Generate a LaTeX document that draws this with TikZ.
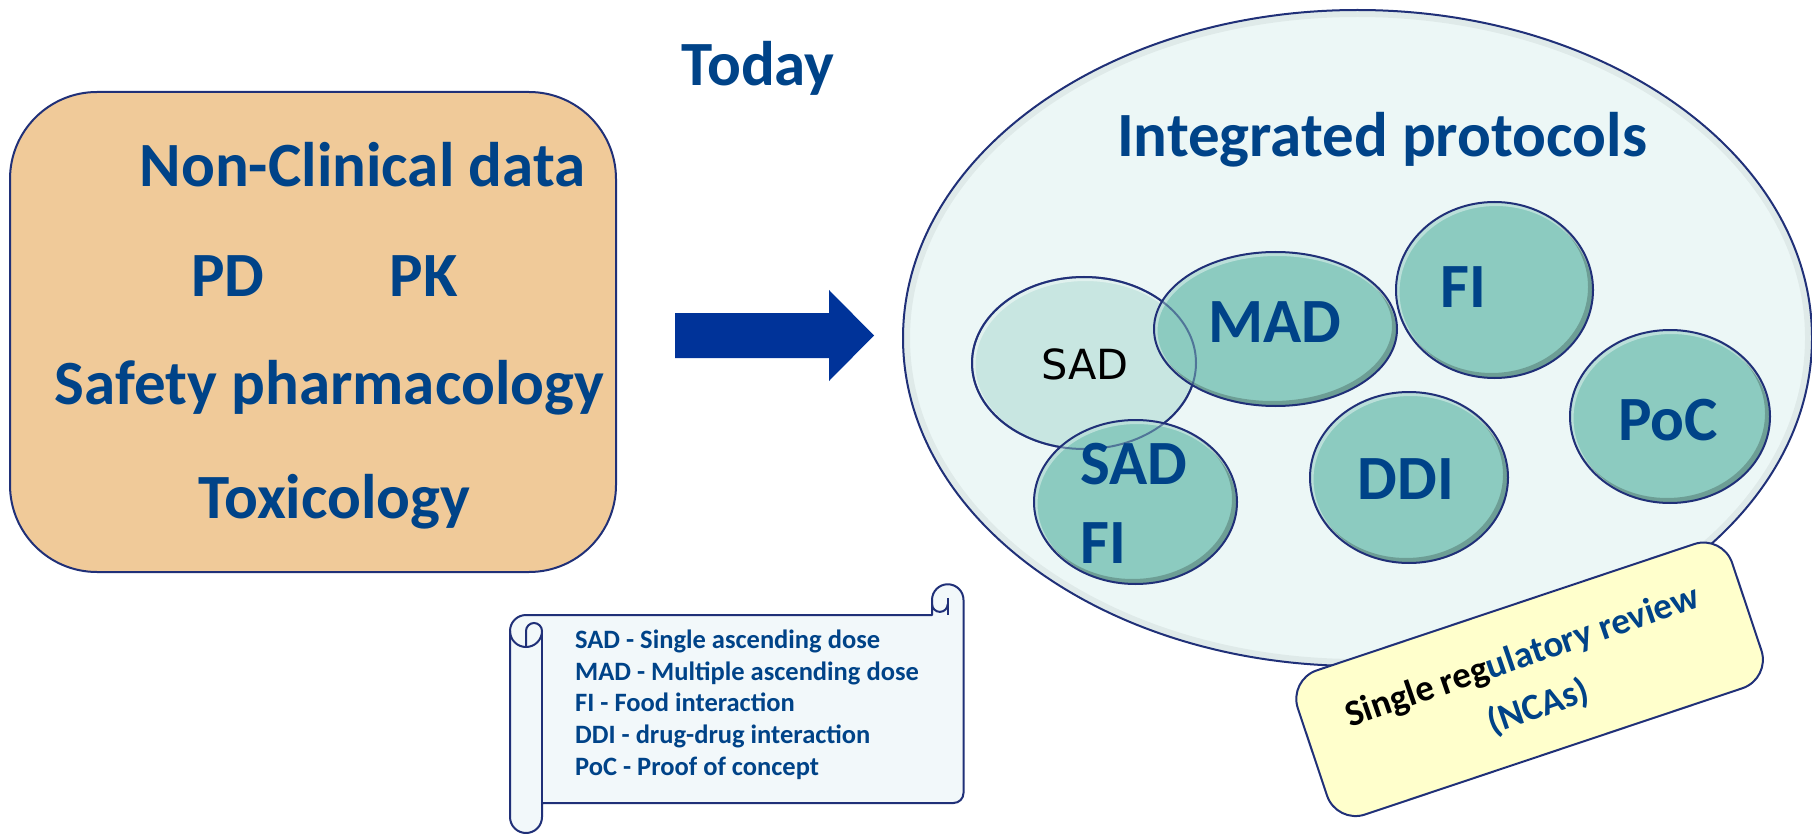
\documentclass[tikz,border=0pt]{standalone}
\usepackage{fontspec}
\usetikzlibrary{shapes.geometric,calc}
\newfontfamily\calib{Carlito}
\newfontfamily\djv{DejaVu Sans}
\definecolor{txtblue}{RGB}{0,67,136}
\definecolor{edgeblue}{RGB}{32,48,120}
\definecolor{peach}{RGB}{240,202,153}
\definecolor{arrowblue}{RGB}{0,51,153}
\definecolor{paleteal}{RGB}{236,247,246}
\definecolor{tealfill}{RGB}{140,203,192}
\definecolor{sadfill}{RGB}{200,230,225}
\definecolor{scrollfill}{RGB}{242,248,250}
\definecolor{notefill}{RGB}{255,255,204}

\tikzset{
  big/.style={font=\calib\bfseries\fontsize{63}{77}\selectfont, text=txtblue, inner sep=0pt, anchor=base},
  legend/.style={font=\calib\bfseries\fontsize{26.5}{32}\selectfont, text=txtblue, inner sep=0pt, anchor=base west},
  note/.style={font=\calib\bfseries\fontsize{37}{45}\selectfont, inner sep=0pt, anchor=base, rotate=19},
  outline/.style={draw=edgeblue, line width=2pt},
  bubble/.style={ellipse, outline, fill=tealfill, inner sep=0pt,
    path picture={
      \path let \p1=(path picture bounding box.north east), \p2=(path picture bounding box.center) in
        [draw=black, opacity=0.10, line width=10pt] ([xshift=-3pt,yshift=3pt]\p2) ellipse [x radius=\x1-\x2, y radius=\y1-\y2]
        [draw=black, opacity=0.22, line width=4pt] ([xshift=-2pt,yshift=2pt]\p2) ellipse [x radius=\x1-\x2, y radius=\y1-\y2];
      \path let \p1=(path picture bounding box.north east), \p2=(path picture bounding box.center) in
        [draw=white, opacity=0.40, line width=4pt] ([xshift=1.5pt,yshift=-2pt]\p2) ellipse [x radius=\x1-\x2, y radius=\y1-\y2];
    }},
  lightbubble/.style={ellipse, outline, fill=sadfill, inner sep=0pt,
    path picture={
      \path let \p1=(path picture bounding box.north east), \p2=(path picture bounding box.center) in
        [draw=white, opacity=0.45, line width=4pt] ([xshift=1.5pt,yshift=-2pt]\p2) ellipse [x radius=\x1-\x2, y radius=\y1-\y2];
    }},
}

\begin{document}
\begin{tikzpicture}[x=1pt, y=1pt]
\useasboundingbox (0,0) rectangle (1812,-834);

% heading
\node[big] (today) at (758,-86) {Today};

% non-clinical block
\node[outline, fill=peach, rounded corners=87pt, minimum width=606, minimum height=480, inner sep=0pt] (nonclin) at (313,-332) {};
\node[big] (ncd) at (362.5,-187) {Non-Clinical data};
\node[big] (pd) at (228,-297) {PD};
\node[big] (pk) at (423.5,-297) {PK};
\node[big] (safety) at (329.5,-404) {Safety pharmacology};
\node[big] (tox) at (334.5,-518) {Toxicology};

% block arrow
\fill[arrowblue] (675,-313) -- (829,-313) -- (829,-290) -- (874,-335.5) -- (829,-381) -- (829,-358) -- (675,-358) -- cycle;

% integrated protocols
\node[ellipse, outline, fill=paleteal, minimum width=909, minimum height=656, inner sep=0pt,
  path picture={\draw[black, opacity=0.05, line width=14pt] (path picture bounding box.center) ellipse [x radius=454.5pt, y radius=328pt];}]
  (protocols) at (1357.5,-338) {};
\node[big] (integ) at (1382,-157) {Integrated protocols};

\node[lightbubble, minimum width=224, minimum height=172] (sad) at (1084,-363) {};
\node[bubble, minimum width=243, minimum height=154] (mad) at (1275.5,-329) {};
\node[bubble, minimum width=197, minimum height=176] (fi) at (1494.5,-290) {};
\node[bubble, minimum width=203, minimum height=164] (sadfi) at (1135.5,-502) {};
\node[bubble, minimum width=198, minimum height=171] (ddi) at (1409,-477.5) {};
\node[bubble, minimum width=200, minimum height=173] (poc) at (1670,-416.5) {};
\draw[edgeblue, line width=2pt, opacity=0.55] (sad.center) ellipse [x radius=112, y radius=86];

\node[anchor=base, inner sep=0pt, font=\djv\fontsize{41.5}{50}\selectfont] (sadt) at (1085,-379) {SAD};
\node[big] (madt) at (1274.5,-342) {MAD};
\node[big] (fit) at (1463.5,-308) {FI};
\node[big, anchor=base west] (sadfia) at (1080,-484) {SAD};
\node[big, anchor=base west] (sadfib) at (1080,-563) {FI};
\node[big] (ddit) at (1406,-499) {DDI};
\node[big] (poct) at (1668,-440) {PoC};

% regulatory review note
\node[outline, fill=notefill, rounded corners=30pt, minimum width=458, minimum height=152, rotate=18.5, inner sep=0pt] (review) at (1529.6,-679.3) {};
\node[note] (rev1) at (1525.6,-667.2) {Single reg\textcolor{txtblue}{ulatory review}};
\node[note, text=txtblue] (rev2) at (1542.2,-717.3) {(NCAs)};

% abbreviation scroll
\draw[outline, fill=scrollfill, line join=round]
  (510,-631) arc[start angle=180, end angle=90, radius=16] -- (932,-615) -- (932,-600)
  arc[start angle=180, end angle=0, radius=15.75] -- (963.5,-793)
  arc[start angle=0, end angle=-90, radius=10] -- (542,-803) -- (542,-817)
  arc[start angle=0, end angle=-180, radius=16] -- cycle;
\draw[outline] (542,-803) -- (542,-631);
\draw[outline] (510,-631) arc[start angle=180, end angle=360, radius=16];
\draw[outline] (526,-647) -- (526,-631) arc[start angle=180, end angle=0, radius=8];
\draw[outline] (932,-604) arc[start angle=180, end angle=360, radius=7.875];
\draw[outline] (947.75,-598) -- (947.75,-615);

\node[legend] (leg1) at (575,-648) {SAD - Single ascending dose};
\node[legend] (leg2) at (575,-680) {MAD - Multiple ascending dose};
\node[legend] (leg3) at (575,-711) {FI - Food interaction};
\node[legend] (leg4) at (575,-743) {DDI - drug-drug interaction};
\node[legend] (leg5) at (575,-775) {PoC - Proof of concept};
\end{tikzpicture}
\end{document}
